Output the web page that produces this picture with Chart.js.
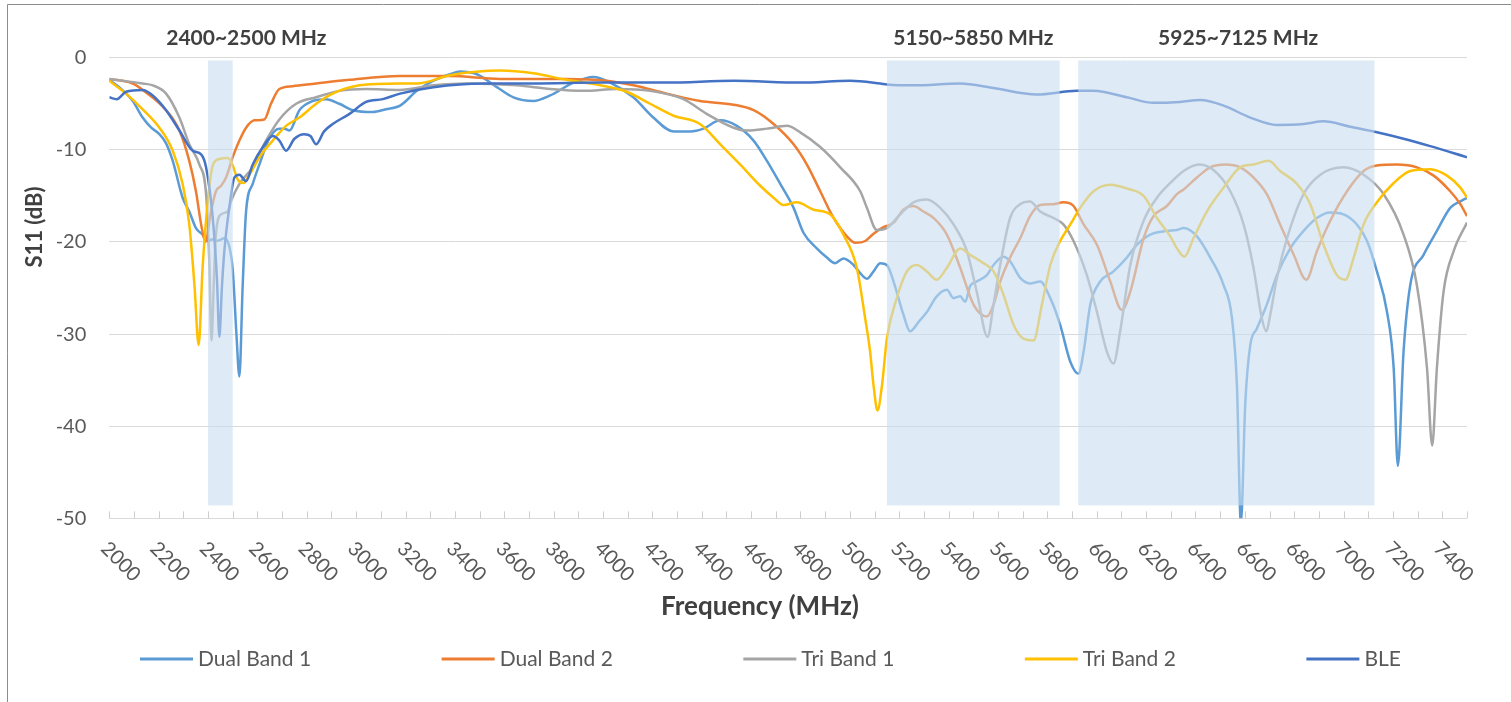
<!DOCTYPE html>
<html>
<head>
<meta charset="utf-8">
<title>S11</title>
<script src="https://cdn.jsdelivr.net/npm/chart.js@4.4.0/dist/chart.umd.min.js"></script>
<style>
  html, body { margin: 0; padding: 0; background: #fff; overflow: hidden; }
  #wrap { position: relative; width: 1511px; height: 702px; }
</style>
</head>
<body>
<div id="wrap"><canvas id="s11Chart" width="1511" height="702"></canvas></div>
<script>
// values: frequency (MHz) and S11 (dB) for each antenna
const dualBand1Freq = [2000, 2040, 2095, 2135, 2170, 2203, 2230, 2257, 2297, 2324, 2351, 2378, 2400, 2419, 2432, 2446, 2466, 2486, 2500, 2515, 2527, 2540, 2554, 2581, 2608, 2649, 2689, 2710, 2730, 2770, 2824, 2878, 2932, 2986, 3068, 3120, 3178, 3246, 3313, 3380, 3421, 3489, 3570, 3637, 3718, 3786, 3880, 3961, 4029, 4123, 4204, 4286, 4353, 4407, 4475, 4542, 4610, 4664, 4718, 4772, 4812, 4866, 4907, 4940, 4974, 5015, 5049, 5069, 5096, 5123, 5150, 5177, 5217, 5244, 5278, 5312, 5352, 5393, 5420, 5447, 5467, 5487, 5514, 5555, 5582, 5622, 5649, 5690, 5730, 5771, 5812, 5852, 5893, 5926, 5947, 5974, 6014, 6068, 6122, 6163, 6217, 6284, 6325, 6352, 6406, 6460, 6514, 6548, 6568, 6584, 6602, 6622, 6649, 6689, 6730, 6784, 6838, 6892, 6946, 7000, 7054, 7095, 7135, 7176, 7203, 7220, 7243, 7270, 7324, 7378, 7432, 7473, 7500];
const dualBand1S11 = [-2.4, -3.2, -4.7, -6.5, -7.6, -8.3, -9.3, -11.2, -15.2, -16.7, -18.5, -19.2, -19.9, -19.7, -19.9, -19.8, -19.6, -20.5, -23, -30, -34.6, -25, -16.7, -13.7, -11.6, -8.7, -7.7, -7.7, -7.9, -5.7, -4.7, -4.5, -5.0, -5.7, -5.9, -5.6, -5.2, -3.6, -2.5, -1.8, -1.5, -1.8, -3.2, -4.3, -4.7, -4.1, -2.7, -2.1, -2.7, -4.3, -6.5, -8.0, -8.0, -7.7, -6.8, -7.4, -9.0, -11.2, -13.7, -16.3, -19.0, -20.7, -21.7, -22.3, -21.8, -22.5, -23.6, -24.0, -23.2, -22.3, -22.5, -24.3, -27.9, -29.7, -28.7, -27.6, -25.9, -25.2, -26.1, -25.9, -26.5, -24.8, -24.3, -23.6, -22.5, -21.6, -22.1, -23.9, -24.5, -24.3, -26.1, -29.0, -33.0, -34.3, -31.9, -26.8, -24.3, -23.2, -21.7, -20.3, -19.2, -18.8, -18.7, -18.5, -19.4, -21.7, -24.7, -28.3, -35.6, -50.5, -37.4, -31.2, -29.4, -26.8, -23.6, -20.7, -18.8, -17.4, -16.8, -17.0, -18.1, -19.9, -23.2, -27.6, -33.7, -44.3, -31.9, -24.7, -21.4, -18.8, -16.3, -15.6, -15.2];

const dualBand2Freq = [2000, 2095, 2135, 2230, 2284, 2324, 2351, 2372, 2389, 2412, 2432, 2453, 2473, 2500, 2527, 2554, 2588, 2628, 2655, 2689, 2743, 2838, 2973, 3176, 3381, 3583, 3853, 4015, 4123, 4258, 4393, 4529, 4610, 4691, 4772, 4826, 4880, 4934, 4988, 5022, 5062, 5096, 5136, 5177, 5217, 5258, 5298, 5339, 5393, 5447, 5501, 5555, 5582, 5609, 5649, 5690, 5730, 5771, 5825, 5865, 5906, 5947, 6001, 6055, 6102, 6136, 6190, 6230, 6284, 6325, 6352, 6406, 6460, 6521, 6581, 6635, 6689, 6743, 6798, 6849, 6892, 6946, 7014, 7081, 7135, 7216, 7297, 7365, 7432, 7473, 7500];
const dualBand2S11 = [-2.3, -2.8, -3.5, -5.7, -7.9, -11.2, -14.5, -18.1, -20.0, -16.7, -14.5, -13.9, -13.0, -10.8, -9.0, -7.6, -6.8, -6.7, -5.0, -3.4, -3.1, -2.8, -2.4, -2.0, -2.0, -2.3, -2.3, -2.5, -3.0, -3.9, -4.7, -5.1, -5.7, -7.2, -9.4, -11.6, -14.5, -17.4, -19.4, -20.1, -19.9, -19.1, -18.4, -17.9, -16.5, -16.1, -16.7, -17.4, -19.2, -22.8, -26.8, -28.1, -26.8, -24.3, -21.7, -19.6, -17.2, -16.0, -15.9, -15.7, -16.1, -18.1, -20.3, -24.3, -27.4, -25.4, -19.6, -17.2, -16.1, -14.8, -14.3, -13.0, -11.9, -11.6, -11.9, -13.0, -14.8, -18.1, -21.4, -24.1, -21.0, -17.7, -14.5, -12.3, -11.7, -11.6, -11.9, -12.8, -14.5, -15.9, -17.2];

const triBand1Freq = [2000, 2135, 2176, 2230, 2284, 2324, 2365, 2392, 2405, 2414, 2424, 2432, 2453, 2480, 2493, 2527, 2581, 2635, 2689, 2757, 2838, 2932, 3040, 3176, 3313, 3448, 3651, 3786, 3921, 4056, 4191, 4326, 4420, 4529, 4583, 4664, 4745, 4799, 4880, 4961, 5042, 5069, 5109, 5150, 5204, 5258, 5312, 5366, 5420, 5474, 5514, 5558, 5582, 5609, 5649, 5690, 5730, 5771, 5825, 5865, 5906, 5960, 6001, 6041, 6068, 6095, 6136, 6190, 6244, 6298, 6352, 6413, 6473, 6541, 6595, 6635, 6669, 6687, 6703, 6730, 6771, 6838, 6906, 7000, 7081, 7162, 7243, 7297, 7338, 7359, 7378, 7405, 7446, 7500];
const triBand1S11 = [-2.3, -2.8, -3.0, -3.9, -6.5, -9.4, -11.6, -14.8, -22, -30.7, -24, -19.2, -17.0, -16.7, -15.6, -13.7, -11.9, -9.0, -6.7, -5.0, -4.3, -3.6, -3.4, -3.5, -3.0, -2.8, -3.0, -3.4, -3.6, -3.4, -3.6, -4.5, -6.1, -7.6, -7.9, -7.7, -7.4, -8.1, -9.7, -11.9, -14.5, -16.3, -18.7, -18.5, -17.0, -15.7, -15.4, -16.3, -18.1, -21.0, -25.4, -30.3, -26.8, -22.5, -17.4, -15.9, -15.6, -16.7, -17.4, -18.1, -19.9, -23.6, -27.6, -31.9, -33.2, -29.7, -22.5, -17.7, -15.2, -13.6, -12.3, -11.6, -12.2, -14.5, -18.1, -22.8, -28.3, -29.7, -27.9, -23.9, -19.6, -14.8, -12.7, -11.9, -12.7, -14.8, -19.2, -24.7, -33.7, -42.1, -33.7, -25.4, -21.0, -17.9];

const triBand2Freq = [2000, 2068, 2135, 2203, 2257, 2297, 2324, 2345, 2362, 2378, 2399, 2419, 2446, 2480, 2500, 2520, 2543, 2568, 2608, 2662, 2716, 2770, 2838, 2905, 3014, 3176, 3246, 3381, 3583, 3718, 3853, 3989, 4096, 4191, 4286, 4393, 4475, 4556, 4637, 4691, 4731, 4785, 4853, 4920, 4974, 5028, 5062, 5082, 5096, 5112, 5130, 5150, 5190, 5231, 5271, 5312, 5352, 5393, 5447, 5487, 5541, 5582, 5622, 5663, 5703, 5744, 5778, 5812, 5852, 5893, 5933, 5987, 6055, 6122, 6190, 6244, 6298, 6325, 6355, 6392, 6446, 6514, 6581, 6635, 6696, 6743, 6811, 6865, 6919, 6973, 7007, 7041, 7081, 7135, 7203, 7270, 7351, 7419, 7473, 7500];
const triBand2S11 = [-2.5, -3.9, -5.6, -7.6, -10.1, -13.7, -18.1, -24.7, -31.2, -22.8, -15.6, -11.7, -11.0, -10.9, -11.7, -13.2, -13.6, -12.7, -10.8, -9.0, -7.4, -6.5, -5.0, -3.9, -3.0, -2.8, -2.8, -1.9, -1.4, -1.7, -2.4, -3.0, -3.7, -5.0, -6.3, -7.2, -9.4, -11.6, -13.9, -15.2, -16.0, -15.7, -16.5, -17.0, -19.2, -22.8, -28.3, -31.9, -35.6, -38.3, -35.6, -30.5, -26.1, -23.2, -22.5, -23.2, -24.1, -22.8, -20.7, -21.4, -22.3, -23.2, -25.7, -29.0, -30.5, -30.7, -26.8, -22.5, -19.9, -18.1, -16.3, -14.5, -13.8, -14.2, -15.0, -17.4, -19.4, -20.7, -21.6, -19.6, -16.7, -14.1, -11.9, -11.6, -11.2, -12.3, -13.7, -15.9, -20.3, -23.6, -24.1, -21.7, -18.1, -15.7, -13.6, -12.3, -12.1, -12.8, -14.1, -15.2];

const bleFreq = [2000, 2030, 2068, 2135, 2176, 2230, 2284, 2338, 2372, 2392, 2419, 2436, 2446, 2456, 2466, 2486, 2507, 2527, 2554, 2581, 2622, 2662, 2689, 2716, 2750, 2790, 2815, 2838, 2870, 2905, 2973, 3040, 3108, 3178, 3313, 3516, 3718, 3989, 4258, 4529, 4799, 5001, 5123, 5150, 5258, 5447, 5582, 5757, 5920, 5987, 6122, 6230, 6338, 6419, 6514, 6622, 6730, 6838, 6919, 7027, 7135, 7243, 7351, 7500];
const bleS11 = [-4.3, -4.5, -3.7, -3.5, -4.1, -5.7, -7.9, -10.1, -10.5, -11.9, -17.4, -24, -30.3, -25, -21.0, -16.3, -13.0, -12.7, -13.4, -11.6, -9.7, -8.5, -9.0, -10.1, -8.8, -8.3, -8.5, -9.4, -8.0, -7.2, -6.1, -4.8, -4.5, -3.9, -3.2, -2.8, -2.8, -2.7, -2.7, -2.5, -2.7, -2.5, -2.8, -2.9, -3.0, -2.8, -3.3, -4.0, -3.6, -3.6, -4.3, -4.9, -4.8, -4.6, -5.2, -6.5, -7.3, -7.2, -6.9, -7.5, -8.1, -8.8, -9.6, -10.8];

const seriesNames = ['Dual Band 1', 'Dual Band 2', 'Tri Band 1', 'Tri Band 2', 'BLE'];
const freqTickLabels = [2000, 2200, 2400, 2600, 2800, 3000, 3200, 3400, 3600, 3800, 4000, 4200, 4400, 4600, 4800, 5000, 5200, 5400, 5600, 5800, 6000, 6200, 6400, 6600, 6800, 7000, 7200, 7400];
const s11TickValues = [0, -10, -20, -30, -40, -50];
const bandRanges = [[2400, 2500], [5150, 5850], [5925, 7125]];
const bandLabels = ['2400~2500 MHz', '5150~5850 MHz', '5925~7125 MHz'];
const bandLabelFreq = [2555, 5500, 6573];

const COLORS = ['#5B9BD5', '#ED7D31', '#A5A5A5', '#FFC000', '#4472C4'];
const TEXT = '#595959';
const DARK = '#404040';
const FONT = 'Lato';

const seriesData = [
  [dualBand1Freq, dualBand1S11],
  [dualBand2Freq, dualBand2S11],
  [triBand1Freq, triBand1S11],
  [triBand2Freq, triBand2S11],
  [bleFreq, bleS11]
];

const datasets = seriesData.map(([fr, s11], i) => ({
  label: seriesNames[i],
  data: fr.map((f, j) => ({ x: f, y: s11[j] })),
  borderColor: COLORS[i],
  backgroundColor: COLORS[i],
  borderWidth: 2.5,
  pointRadius: 0,
  cubicInterpolationMode: 'monotone',
  fill: false,
  order: seriesNames.length - i
}));

const decorPlugin = {
  id: 'decor',
  beforeDraw(chart) {
    const ctx = chart.ctx;
    ctx.save();
    ctx.fillStyle = '#fff';
    ctx.fillRect(0, 0, chart.width, chart.height);
    // frame
    ctx.strokeStyle = '#8c8c8c';
    ctx.lineWidth = 1;
    ctx.beginPath();
    ctx.moveTo(7.5, chart.height);
    ctx.lineTo(7.5, 4.5);
    ctx.lineTo(chart.width, 4.5);
    ctx.stroke();
    ctx.restore();
  },
  afterDatasetsDraw(chart) {
    const ctx = chart.ctx;
    const x = chart.scales.x, y = chart.scales.y;
    ctx.save();
    ctx.fillStyle = 'rgba(200, 222, 240, 0.6)';
    bandRanges.forEach(([a, b]) => {
      const x0 = x.getPixelForValue(a), x1 = x.getPixelForValue(b);
      const y0 = y.getPixelForValue(-0.3), y1 = y.getPixelForValue(-48.6);
      ctx.fillRect(x0, y0, x1 - x0, y1 - y0);
    });
    ctx.restore();
  },
  afterDraw(chart) {
    const ctx = chart.ctx;
    const x = chart.scales.x, y = chart.scales.y;
    const area = chart.chartArea;
    ctx.save();

    // small tick marks inside the axis
    ctx.strokeStyle = '#cfcfcf';
    ctx.lineWidth = 1;
    for (let f = 2000; f <= 7500; f += 100) {
      const px = Math.round(x.getPixelForValue(f)) + 0.5;
      ctx.beginPath();
      ctx.moveTo(px, area.bottom);
      ctx.lineTo(px, area.bottom - 7);
      ctx.stroke();
    }

    // rotated frequency labels
    ctx.fillStyle = TEXT;
    ctx.font = '20px ' + FONT;
    ctx.textAlign = 'left';
    ctx.textBaseline = 'middle';
    freqTickLabels.forEach(f => {
      ctx.save();
      ctx.translate(x.getPixelForValue(f) - 5, area.bottom + 27);
      ctx.rotate(Math.PI / 4);
      ctx.fillText(String(f), 0, 0);
      ctx.restore();
    });

    // band captions
    ctx.fillStyle = DARK;
    ctx.font = 'bold 21px ' + FONT;
    ctx.textAlign = 'center';
    bandLabels.forEach((t, i) => {
      ctx.fillText(t, x.getPixelForValue(bandLabelFreq[i]), 38);
    });

    // axis titles
    ctx.font = 'bold 26px ' + FONT;
    ctx.fillText('Frequency (MHz)', 760, 607);
    ctx.save();
    ctx.translate(35, 227);
    ctx.rotate(-Math.PI / 2);
    ctx.font = 'bold 22px ' + FONT;
    ctx.fillText('S11 (dB)', 0, 0);
    ctx.restore();

    // legend
    ctx.font = '21px ' + FONT;
    ctx.textAlign = 'left';
    ctx.fillStyle = TEXT;
    let lx = 140;
    const ly = 659;
    seriesNames.forEach((name, i) => {
      ctx.strokeStyle = COLORS[i];
      ctx.lineWidth = 3;
      ctx.beginPath();
      ctx.moveTo(lx, ly);
      ctx.lineTo(lx + 53, ly);
      ctx.stroke();
      ctx.fillText(name, lx + 58, ly);
      lx += 58 + ctx.measureText(name).width + 130.5;
    });
    ctx.restore();
  }
};

const chart = new Chart(document.getElementById('s11Chart'), {
  type: 'line',
  data: { datasets: datasets },
  options: {
    responsive: false,
    animation: false,
    devicePixelRatio: 1,
    layout: { padding: { top: 57.7, right: 44, left: 0, bottom: 0 } },
    plugins: {
      legend: { display: false },
      tooltip: { enabled: false }
    },
    scales: {
      x: {
        type: 'linear',
        min: 2000,
        max: 7500,
        ticks: { display: false },
        grid: { display: false },
        border: { display: false },
        afterFit(scale) { scale.height = 183.7; }
      },
      y: {
        min: -50,
        max: 0,
        afterBuildTicks(scale) { scale.ticks = s11TickValues.map(v => ({ value: v })); },
        ticks: { color: TEXT, font: { family: FONT, size: 20 }, padding: 23 },
        grid: { color: '#d9d9d9', lineWidth: 1, drawTicks: false },
        border: { display: false },
        afterFit(scale) { scale.width = 109.3; }
      }
    }
  },
  plugins: [decorPlugin]
});
</script>
</body>
</html>
